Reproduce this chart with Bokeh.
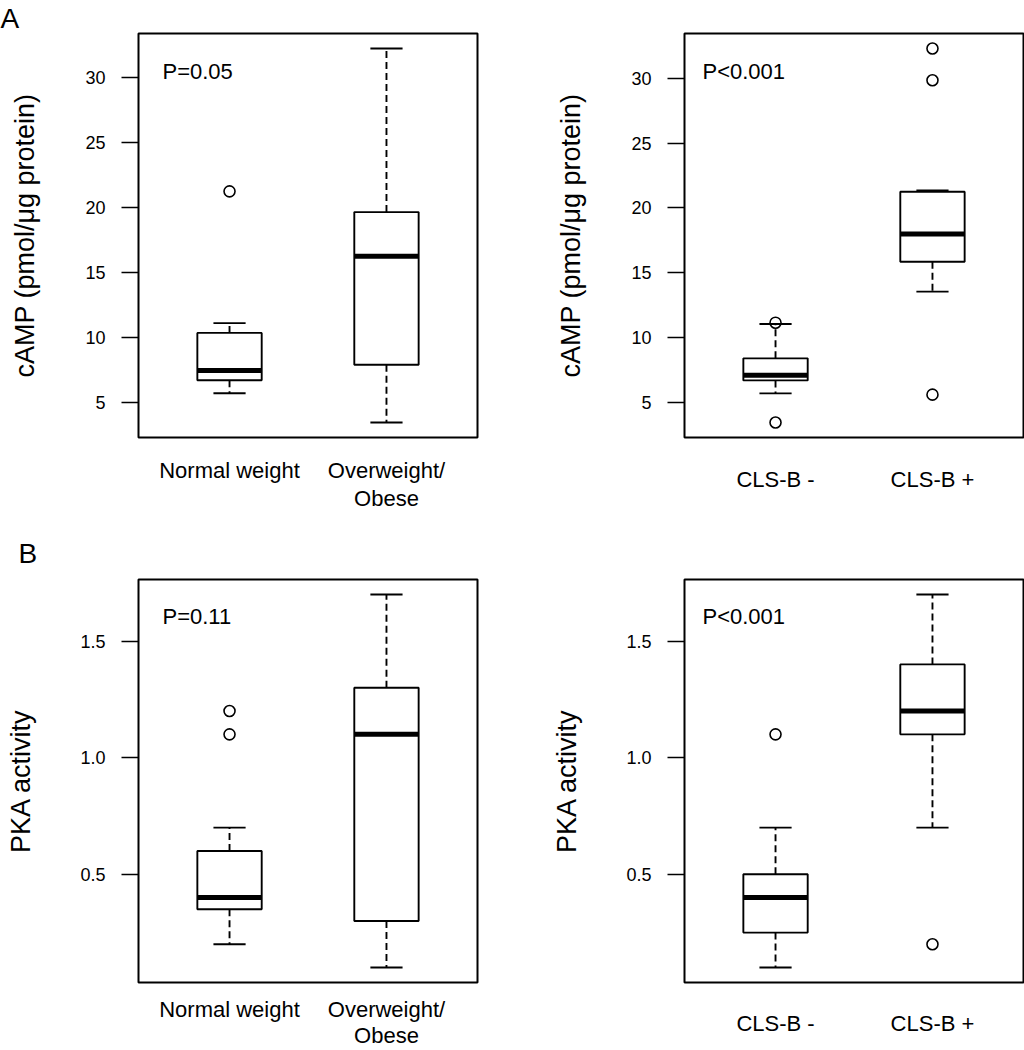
from bokeh.plotting import figure
from bokeh.models import Range1d, FixedTicker, Label, PrintfTickFormatter, Title
from bokeh.layouts import column, row
from bokeh.embed import file_html
from bokeh.resources import INLINE

FONT = "Liberation Sans"

positions = [1, 2]
weight_labels = ["Normal weight", "Overweight/\nObese"]
cls_labels = ["CLS-B -", "CLS-B +"]

# Panel A (cAMP), by weight
camp_w_lo = [5.7, 3.45]
camp_w_q1 = [6.7, 7.9]
camp_w_med = [7.45, 16.25]
camp_w_q3 = [10.35, 19.65]
camp_w_hi = [11.1, 32.25]
camp_w_out = [[21.25], []]

# Panel A (cAMP), by CLS-B
camp_c_lo = [5.7, 13.55]
camp_c_q1 = [6.7, 15.85]
camp_c_med = [7.1, 18.0]
camp_c_q3 = [8.4, 21.25]
camp_c_hi = [11.05, 21.35]
camp_c_out = [[11.15, 3.45], [32.3, 29.85, 5.6]]

# Panel B (PKA), by weight
pka_w_lo = [0.2, 0.1]
pka_w_q1 = [0.35, 0.3]
pka_w_med = [0.4, 1.1]
pka_w_q3 = [0.6, 1.3]
pka_w_hi = [0.7, 1.7]
pka_w_out = [[1.2, 1.1], []]

# Panel B (PKA), by CLS-B
pka_c_lo = [0.1, 0.7]
pka_c_q1 = [0.25, 1.1]
pka_c_med = [0.4, 1.2]
pka_c_q3 = [0.5, 1.4]
pka_c_hi = [0.7, 1.7]
pka_c_out = [[1.1], [0.2]]

camp_ticks = [5, 10, 15, 20, 25, 30]
pka_ticks = [0.5, 1.0, 1.5]

BOXW = 0.41
LW = 1.9


def panel(lo, q1, med, q3, hi, outs, labels, ylabel, ticks, fmt, ptext, pdx, pdy,
          letter, letter_off, letter_standoff, width, height, bl, br, bt, bb,
          xlab_standoff, ylab_standoff, xlab_lh):
    allv = lo + hi + [v for o in outs for v in o]
    vmin, vmax = min(allv), max(allv)
    pad = 0.04 * (vmax - vmin)
    y0, y1 = vmin - pad, vmax + pad
    p = figure(width=width, height=height, x_range=Range1d(0.42, 2.58),
               y_range=Range1d(y0, y1), output_backend="svg",
               toolbar_location=None, min_border_left=bl, min_border_right=br,
               min_border_top=bt, min_border_bottom=bb)
    p.xgrid.visible = False
    p.ygrid.visible = False
    p.outline_line_color = "black"
    p.outline_line_width = 2
    p.outline_line_alpha = 1.0

    xa = p.xaxis[0]
    xa.ticker = FixedTicker(ticks=positions)
    xa.major_label_overrides = {positions[i]: labels[i] for i in range(len(labels))}
    xa.axis_line_color = None
    xa.major_tick_line_color = None
    xa.minor_tick_line_color = None
    xa.major_tick_out = 0
    xa.major_tick_in = 0
    xa.major_label_standoff = xlab_standoff
    xa.major_label_text_font = FONT
    xa.major_label_text_font_size = "22px"
    xa.major_label_text_color = "black"
    xa.major_label_text_line_height = xlab_lh

    ax = p.yaxis[0]
    ax.ticker = FixedTicker(ticks=ticks)
    ax.formatter = PrintfTickFormatter(format=fmt)
    ax.axis_line_color = None
    ax.major_tick_out = 17
    ax.major_tick_in = 0
    ax.major_tick_line_width = 1.6
    ax.major_tick_line_color = "black"
    ax.minor_tick_line_color = None
    ax.major_label_standoff = 16
    ax.major_label_text_font = FONT
    ax.major_label_text_font_size = "18px"
    ax.major_label_text_color = "black"
    ax.axis_label = ylabel
    ax.axis_label_text_font = FONT
    ax.axis_label_text_font_size = "27px"
    ax.axis_label_text_font_style = "normal"
    ax.axis_label_text_color = "black"
    ax.axis_label_standoff = ylab_standoff

    xs = positions
    # whiskers
    p.segment(x0=xs, y0=q3, x1=xs, y1=hi, line_color="black", line_width=LW,
              line_dash="7 4")
    p.segment(x0=xs, y0=q1, x1=xs, y1=lo, line_color="black", line_width=LW,
              line_dash="7 4")
    # caps
    p.segment(x0=[x - BOXW / 4 for x in xs], y0=hi, x1=[x + BOXW / 4 for x in xs],
              y1=hi, line_color="black", line_width=LW)
    p.segment(x0=[x - BOXW / 4 for x in xs], y0=lo, x1=[x + BOXW / 4 for x in xs],
              y1=lo, line_color="black", line_width=LW)
    # boxes
    p.quad(left=[x - BOXW / 2 for x in xs], right=[x + BOXW / 2 for x in xs],
           bottom=q1, top=q3, fill_color="white", line_color="black",
           line_width=LW)
    p.segment(x0=[x - BOXW / 2 for x in xs], y0=med,
              x1=[x + BOXW / 2 for x in xs], y1=med, line_color="black",
              line_width=5, line_cap="butt")
    # outliers
    ox = [xs[i] for i, o in enumerate(outs) for _ in o]
    oy = [v for o in outs for v in o]
    p.scatter(x=ox, y=oy, marker="circle", size=11, fill_color=None,
              line_color="black", line_width=1.6)

    # p-value
    p.add_layout(Label(x=0.42, y=y1, x_offset=pdx, y_offset=pdy, text=ptext,
                       text_font=FONT, text_font_size="22px",
                       text_color="black", text_baseline="alphabetic"))
    if letter:
        t = Title(text=letter, align="left", offset=letter_off,
                  text_font=FONT, text_font_size="28px",
                  text_font_style="normal", text_color="black",
                  standoff=letter_standoff)
        p.add_layout(t, "above")
    return p


ylab_a = "cAMP (pmol/\u03bcg protein)"
ylab_b = "PKA activity"

a1 = panel(camp_w_lo, camp_w_q1, camp_w_med, camp_w_q3, camp_w_hi, camp_w_out,
           weight_labels, ylab_a, camp_ticks, "%d", "P=0.05", 24, -38,
           "A", -138, 0, 527, 525, 138, 50, 32, 88, 20, 42, 1.15)
a2 = panel(camp_c_lo, camp_c_q1, camp_c_med, camp_c_q3, camp_c_hi, camp_c_out,
           cls_labels, ylab_a, camp_ticks, "%d", "P<0.001", 18, -38,
           None, 0, 0, 497, 525, 157, 1, 32, 88, 29, 42, 1.15)
b1 = panel(pka_w_lo, pka_w_q1, pka_w_med, pka_w_q3, pka_w_hi, pka_w_out,
           weight_labels, ylab_b, pka_ticks, "%.1f", "P=0.11", 24, -37,
           "B", -120, 21, 527, 525, 138, 50, 53, 67, 14, 41, 1.05)
b2 = panel(pka_c_lo, pka_c_q1, pka_c_med, pka_c_q3, pka_c_hi, pka_c_out,
           cls_labels, ylab_b, pka_ticks, "%.1f", "P<0.001", 18, -37,
           None, 0, 0, 497, 525, 157, 1, 53, 67, 28, 41, 1.15)

layout = column(row(a1, a2), row(b1, b2))
open("out.html", "w").write(file_html(layout, INLINE))
